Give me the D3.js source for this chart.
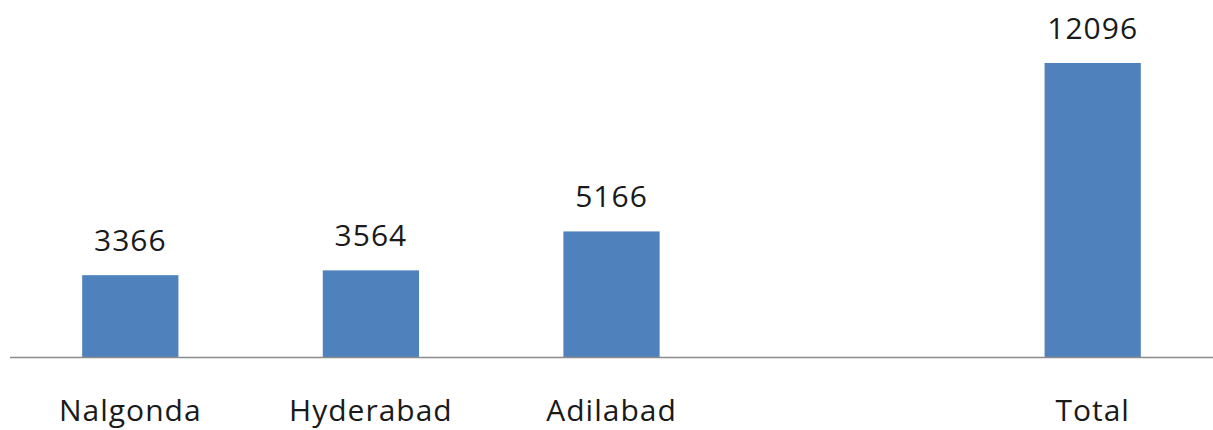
<!DOCTYPE html>
<html>
<head>
<meta charset="utf-8">
<script src="https://cdn.jsdelivr.net/npm/d3@7"></script>
<style>
  body { margin: 0; background: #fff; }
  .g-labels, .g-cat { font-family: "Open Sans", "Noto Sans", sans-serif; font-size: 30px; letter-spacing: 1px; fill: #1a1a1a; }
</style>
</head>
<body>
<div class="g-chart"></div>
<script>
//Local data
var categories = ["Nalgonda", "Hyderabad", "Adilabad", "", "Total"];
var values = [3366, 3564, 5166, null, 12096];

//Chart size
var width = 1213, height = 430;
var baseline = 357;

var svg = d3.select(".g-chart").append("svg")
  .attr("width", width)
  .attr("height", height);

//Keys keep the blank slot distinct
var keys = categories.map(function(d, i) { return i; });

var xScale = d3.scaleBand()
  .domain(keys)
  .range([10, width])
  .paddingInner(0.6)
  .paddingOuter(0.3);

var yScale = d3.scaleLinear()
  .domain([0, 14000])
  .range([baseline, 16.7]);

var data = keys.filter(function(i) { return values[i] != null; });

//Bars
svg.selectAll(".g-num")
  .data(data)
  .enter()
  .append("rect")
  .attr("class", "g-num")
  .attr("x", function(i) { return xScale(i); })
  .attr("y", function(i) { return yScale(values[i]); })
  .attr("width", xScale.bandwidth())
  .attr("height", function(i) { return baseline - yScale(values[i]); })
  .attr("fill", "#4f81bd");

//Axis line
svg.append("line")
  .attr("x1", 10)
  .attr("x2", width)
  .attr("y1", baseline + 0.5)
  .attr("y2", baseline + 0.5)
  .attr("stroke", "#8c8c8c")
  .attr("stroke-width", 1.5);

//Value labels
svg.selectAll(".g-labels")
  .data(data)
  .enter()
  .append("text")
  .attr("class", "g-labels")
  .attr("text-anchor", "middle")
  .attr("x", function(i) { return xScale(i) + xScale.bandwidth() / 2; })
  .attr("y", function(i) { return yScale(values[i]) - 24; })
  .text(function(i) { return values[i]; });

//Category labels
svg.selectAll(".g-cat")
  .data(data)
  .enter()
  .append("text")
  .attr("class", "g-cat")
  .attr("text-anchor", "middle")
  .attr("x", function(i) { return xScale(i) + xScale.bandwidth() / 2; })
  .attr("y", 421)
  .text(function(i) { return categories[i]; });
</script>
</body>
</html>
